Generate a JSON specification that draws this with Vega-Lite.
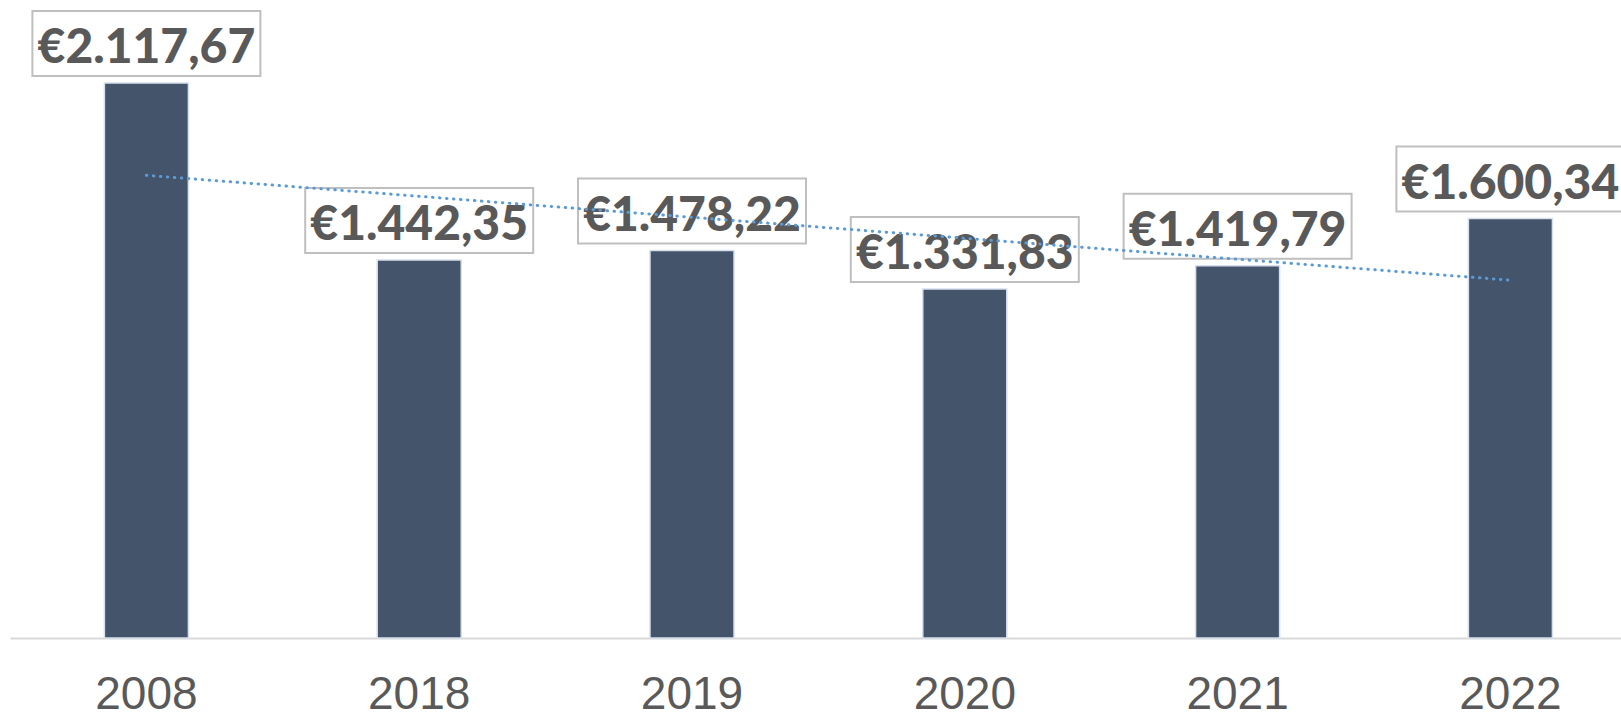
{
  "$schema": "https://vega.github.io/schema/vega-lite/v6.json",
  "width": 1611,
  "height": 638,
  "autosize": {"type": "none"},
  "padding": {"left": 10, "top": 0, "right": 0, "bottom": 82},
  "background": "white",
  "config": {"view": {"stroke": null}},
  "datasets": {
    "bars": [
      {"year": "2008", "value": 2117.67, "label": "€2.117,67"},
      {"year": "2018", "value": 1442.35, "label": "€1.442,35"},
      {"year": "2019", "value": 1478.22, "label": "€1.478,22"},
      {"year": "2020", "value": 1331.83, "label": "€1.331,83"},
      {"year": "2021", "value": 1419.79, "label": "€1.419,79"},
      {"year": "2022", "value": 1600.34, "label": "€1.600,34"}
    ],
    "trend": [
      {"year": "2008", "trend": 1765.1},
      {"year": "2022", "trend": 1365.0}
    ]
  },
  "data": {"name": "bars"},
  "encoding": {
    "x": {
      "field": "year",
      "type": "nominal",
      "sort": null,
      "scale": {"range": [0, 1636.8], "paddingInner": 0.692, "paddingOuter": 0.346},
      "axis": {
        "title": null,
        "ticks": false,
        "tickSize": 0,
        "labelAngle": 0,
        "labelFont": "Liberation Sans",
        "labelFontSize": 46,
        "labelColor": "#595959",
        "labelBaseline": "alphabetic",
        "labelPadding": 70,
        "domainColor": "#d9d9d9",
        "domainWidth": 2,
        "grid": false
      }
    }
  },
  "layer": [
    {
      "mark": {"type": "bar", "fill": "#44546a", "stroke": "#d6e0ee", "strokeWidth": 1.5},
      "encoding": {
        "y": {"field": "value", "type": "quantitative", "scale": {"domain": [0, 2434], "nice": false}, "axis": null}
      }
    },
    {
      "mark": {"type": "bar", "width": 228, "fill": "white", "stroke": "#bfbfbf", "strokeWidth": 2, "yOffset": -7, "y2Offset": -72},
      "encoding": {
        "y": {"field": "value", "type": "quantitative"},
        "y2": {"field": "value"}
      }
    },
    {
      "mark": {"type": "text", "font": "Lato", "fontWeight": 900, "fontSize": 48, "color": "#595959", "align": "center", "baseline": "alphabetic", "dy": -20},
      "encoding": {
        "y": {"field": "value", "type": "quantitative"},
        "text": {"field": "label"}
      }
    },
    {
      "data": {"name": "trend"},
      "mark": {"type": "line", "color": "#5b9bd5", "strokeWidth": 3, "strokeDash": [0.5, 6.5], "strokeCap": "round"},
      "encoding": {
        "y": {"field": "trend", "type": "quantitative"}
      }
    }
  ]
}
